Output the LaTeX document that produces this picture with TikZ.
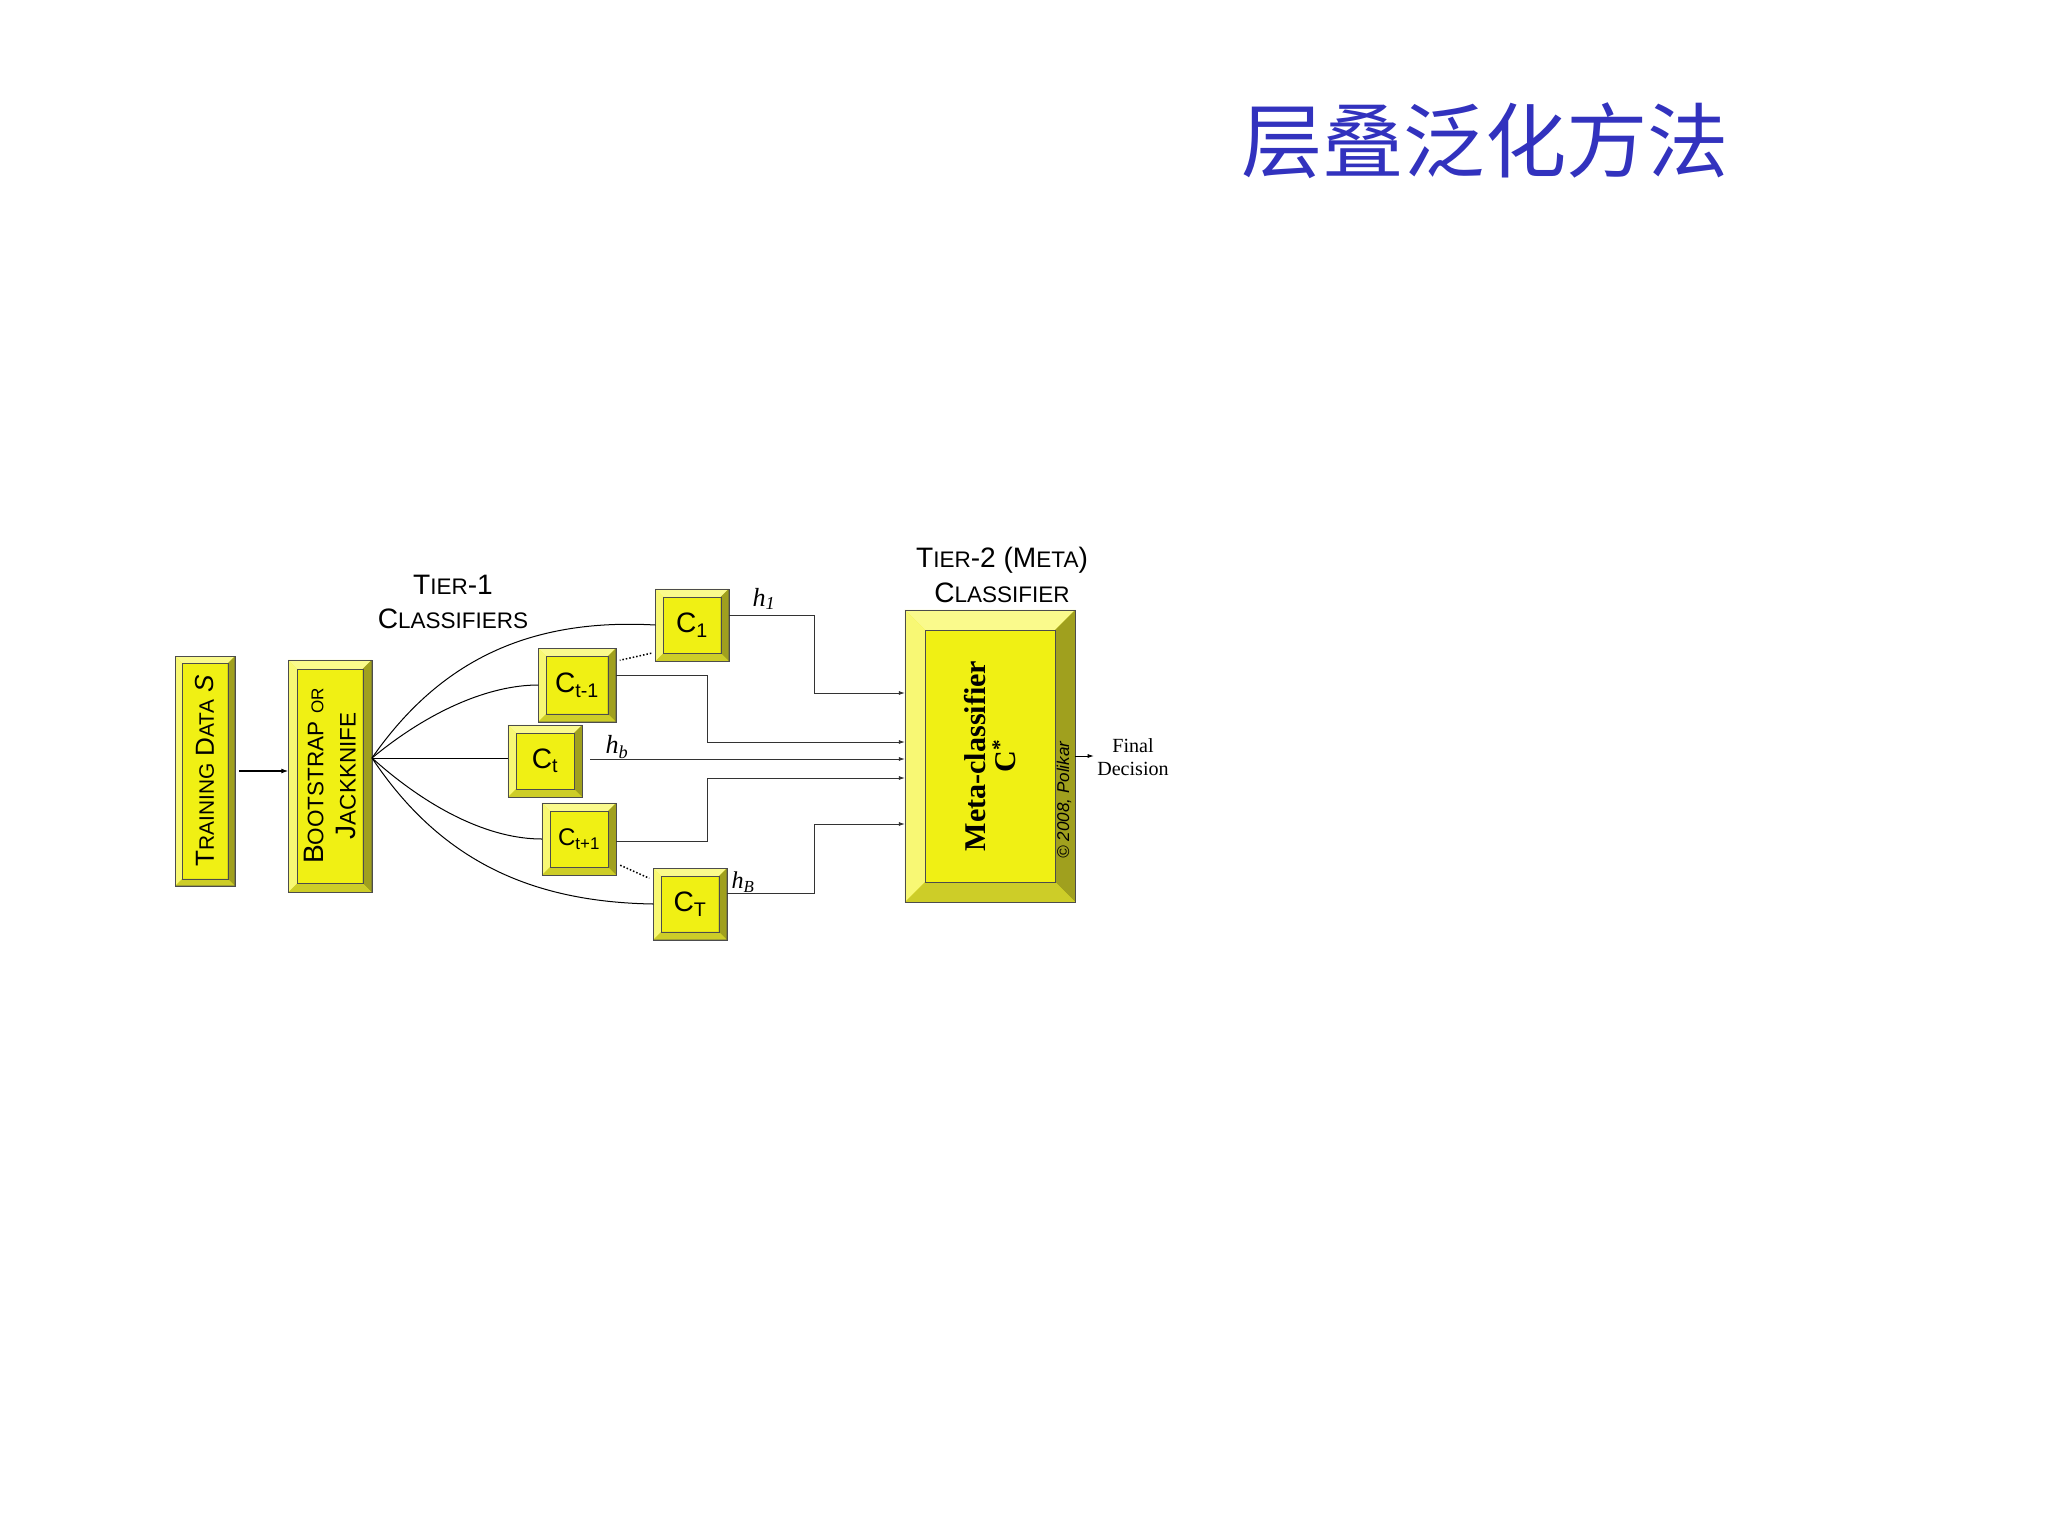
\documentclass[tikz,border=0pt]{standalone}
\usepackage{fontspec}
\setsansfont{Liberation Sans}
\setmainfont{Liberation Serif}
\newfontfamily\cjk{Noto Sans CJK SC}
\usetikzlibrary{calc,arrows.meta}
\definecolor{yel}{RGB}{240,240,20}
\definecolor{yellt}{RGB}{250,250,140}
\definecolor{yeldk}{RGB}{160,160,30}
\definecolor{yelmd}{RGB}{205,205,40}
\definecolor{ttl}{RGB}{50,50,190}
\newcommand\fsc[2]{#1{\fontsize{0.8\fsz}{0}\selectfont #2}}
\newdimen\fsz
\newcommand\bevbox[7]{% name, x, y, w, h, bevel, text
  \node[draw=black!70,fill=yel,minimum width=#4*0.35mm,minimum height=#5*0.35mm,inner sep=0pt] (#1) at (#2,#3) {};
  \fill[yellt] (#1.north west) -- (#1.north east) -- ($(#1.north east)+(-#6,#6)$) -- ($(#1.north west)+(#6,#6)$) -- cycle;
  \fill[yellt!80!yel] (#1.north west) -- ($(#1.north west)+(#6,#6)$) -- ($(#1.south west)+(#6,-#6)$) -- (#1.south west) -- cycle;
  \fill[yeldk] (#1.north east) -- ($(#1.north east)+(-#6,#6)$) -- ($(#1.south east)+(-#6,-#6)$) -- (#1.south east) -- cycle;
  \fill[yelmd] (#1.south west) -- ($(#1.south west)+(#6,-#6)$) -- ($(#1.south east)+(-#6,-#6)$) -- (#1.south east) -- cycle;
  \draw[black!70] ($(#1.north west)+(#6,#6)$) rectangle ($(#1.south east)+(-#6,-#6)$);
  \draw[black!70] (#1.north west) rectangle (#1.south east);
  \node at (#1) {#7};
}
\begin{document}
\begin{tikzpicture}[x=0.35mm,y=-0.35mm,
  wire/.style={draw=black!80,line width=0.7pt},
  fan/.style={draw=black,line width=1pt},
  arr/.style={wire,-{Latex[length=6pt,width=4pt]}},
  lbl/.style={align=center}]
\useasboundingbox (0,0) rectangle (2048,1536);
\fill[white] (0,0) rectangle (2048,1536);
\node[ttl,font=\cjk\fontsize{81}{86}\selectfont] (title) at (1485,141) {层叠泛化方法};

\global\fsz=26pt
\bevbox{train}{205}{771}{59}{229}{7}{\rotatebox{90}{\sffamily\fontsize{26}{28}\selectfont\fsc{T}{RAINING} \fsc{D}{ATA} \textit{S}}}
\bevbox{boot}{330}{776}{83}{232}{9}{\rotatebox{90}{\parbox{220pt}{\centering\sffamily\fontsize{28}{32}\selectfont\global\fsz=28pt\fsc{B}{OOTSTRAP} {\fontsize{17}{0}\selectfont OR}\\\fsc{J}{ACKKNIFE}}}}

\bevbox{c1}{692}{625}{73}{72}{8}{\sffamily\fontsize{28}{28}\selectfont C\textsubscript{1}}
\bevbox{cm}{577}{685}{77}{73}{8}{\sffamily\fontsize{28}{28}\selectfont C\textsubscript{t-1}}
\bevbox{ct}{545}{761}{74}{72}{8}{\sffamily\fontsize{28}{28}\selectfont C\textsubscript{t}}
\bevbox{cp}{579}{839}{74}{72}{8}{\sffamily\fontsize{24}{24}\selectfont C\textsubscript{t+1}}
\bevbox{cT}{690}{904}{73}{71}{8}{\sffamily\fontsize{28}{28}\selectfont C\textsubscript{T}}

\bevbox{meta}{990}{756}{170}{292}{20}{\rotatebox{90}{\parbox{220pt}{\centering\bfseries\fontsize{30}{32}\selectfont Meta-classifier\\[-2pt] C\textsuperscript{*}}}}
\node[rotate=90,font=\sffamily\itshape\fontsize{17}{18}\selectfont] (copy) at (1064,800) {\textcopyright\ 2008, Polikar};

\coordinate (ta) at (239,771);
\draw[-{Latex[length=7pt,width=5pt]},line width=1.3pt] (ta) -- (boot.west |- ta);

\coordinate (fo) at (372,758);
\draw[fan] (fo) .. controls (440,660) and (530,618) .. (c1.west);
\draw[fan] (fo) .. controls (430,710) and (490,685) .. (cm.west);
\draw[fan] (fo) -- (ct.west |- fo);
\draw[fan] (fo) .. controls (430,810) and (490,839) .. (cp.west);
\draw[fan] (fo) .. controls (440,860) and (530,902) .. (cT.west);
\draw[dotted,line width=1.5pt] ($(c1.south west)+(-4,-8)$) -- ($(cm.north east)+(4,12)$);
\draw[dotted,line width=1.5pt] ($(cp.south east)+(4,-10)$) -- ($(cT.north west)+(-4,10)$);

\draw[arr] (c1.east |- 0,615) -- (814,615) -- (814,693) -- (meta.west |- 0,693);
\draw[arr] (cm.east |- 0,675) -- (707,675) -- (707,742) -- (meta.west |- 0,742);
\coordinate (hs) at (590,759);
\draw[arr] (hs) -- (meta.west |- 0,759);
\draw[arr] (cp.east |- 0,841) -- (707,841) -- (707,778) -- (meta.west |- 0,778);
\draw[arr] (cT.east |- 0,893) -- (814,893) -- (814,824) -- (meta.west |- 0,824);

\node[font=\itshape\fontsize{26}{26}\selectfont] (h1) at (764,599) {h\textsubscript{\textit{1}}};
\node[font=\itshape\fontsize{26}{26}\selectfont] (hb) at (617,747) {h\textsubscript{\textit{b}}};
\node[font=\itshape\fontsize{24}{24}\selectfont] (hB) at (743,882) {h\textsubscript{\textit{B}}};

\node[lbl,font=\sffamily\fontsize{28}{34}\selectfont] (t1) at (453,602) {\global\fsz=28pt\fsc{T}{IER}-1\\\fsc{C}{LASSIFIERS}};
\node[lbl,font=\sffamily\fontsize{28}{34}\selectfont] (t2) at (1002,575) {\global\fsz=28pt\fsc{T}{IER}-2 (\fsc{M}{ETA})\\\fsc{C}{LASSIFIER}};

\node[align=center,font=\fontsize{20}{23}\selectfont] (fd) at (1133,757) {Final\\Decision};
\draw[-{Latex[length=6pt,width=4pt]},line width=0.8pt] (meta.east) -- (fd.west |- meta.east);
\end{tikzpicture}
\end{document}
